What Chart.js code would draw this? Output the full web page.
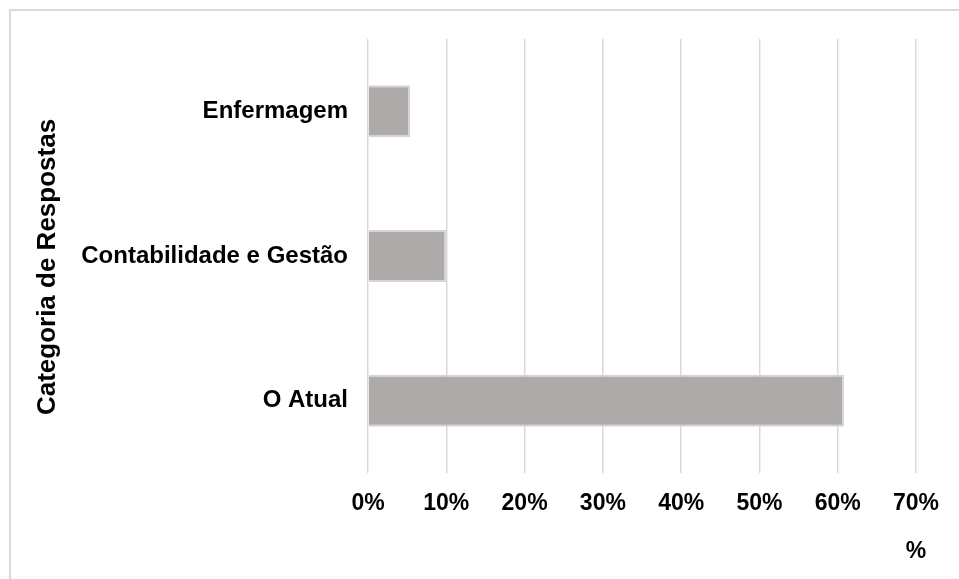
<!DOCTYPE html>
<html>
<head>
<meta charset="utf-8">
<script src="https://cdn.jsdelivr.net/npm/chart.js@4/dist/chart.umd.min.js"></script>
<style>
  html, body { margin: 0; padding: 0; background: #fff; }
  #wrap { width: 959px; height: 579px; position: relative; }
</style>
</head>
<body>
<div id="wrap"><canvas id="barChart"></canvas></div>
<script>
const categorias = ['Enfermagem', 'Contabilidade e Gestão', 'O Atual'];
const valores = [5.4, 10, 60.8];
const ticksX = [0, 10, 20, 30, 40, 50, 60, 70];
const tituloY = 'Categoria de Respostas';
const tituloX = '%';

const FONT = "'Liberation Sans', Arial, sans-serif";

// moldura cinzenta, titulo vertical e "%" por baixo do ultimo tick
const extras = {
  id: 'extras',
  beforeDraw(chart) {
    const ctx = chart.ctx;
    ctx.save();
    ctx.strokeStyle = '#d9d9d9';
    ctx.lineWidth = 2;
    ctx.strokeRect(10, 10, 980, 600);
    ctx.restore();
  },
  afterDraw(chart) {
    const ctx = chart.ctx;
    const x = chart.scales.x;
    ctx.save();
    ctx.fillStyle = '#000';
    ctx.textAlign = 'center';
    ctx.textBaseline = 'middle';
    ctx.font = 'bold 23px ' + FONT;
    ctx.fillText(tituloX, x.getPixelForValue(ticksX[ticksX.length - 1]), 552);

    ctx.font = 'bold 26px ' + FONT;
    ctx.translate(48, 267);
    ctx.rotate(-Math.PI / 2);
    ctx.fillText(tituloY, 0, 0);
    ctx.restore();
  }
};

new Chart(document.getElementById('barChart'), {
  type: 'bar',
  data: {
    labels: categorias,
    datasets: [{
      data: valores,
      backgroundColor: '#aeaaaa',
      borderColor: '#d6d4d4',
      borderWidth: 2,
      barPercentage: 0.36,
      categoryPercentage: 1
    }]
  },
  options: {
    indexAxis: 'y',
    responsive: true,
    maintainAspectRatio: false,
    animation: false,
    layout: { padding: { left: 0, top: 39, right: 43, bottom: 0 } },
    scales: {
      x: {
        min: 0,
        max: 70,
        afterBuildTicks(scale) {
          scale.ticks = ticksX.map(v => ({ value: v }));
        },
        afterFit(scale) { scale.height = 106; },
        grid: { color: '#d9d9d9', lineWidth: 1.5, drawTicks: false },
        border: { display: false },
        ticks: {
          padding: 17,
          color: '#000',
          font: { family: FONT, size: 23, weight: 'bold' },
          callback: v => v + '%'
        }
      },
      y: {
        afterFit(scale) { scale.width = 368; },
        grid: { display: false, drawTicks: false },
        border: { display: false },
        ticks: {
          padding: 20,
          color: '#000',
          font: { family: FONT, size: 24, weight: 'bold' }
        }
      }
    },
    plugins: {
      legend: { display: false },
      tooltip: { enabled: false }
    }
  },
  plugins: [extras]
});
</script>
</body>
</html>
